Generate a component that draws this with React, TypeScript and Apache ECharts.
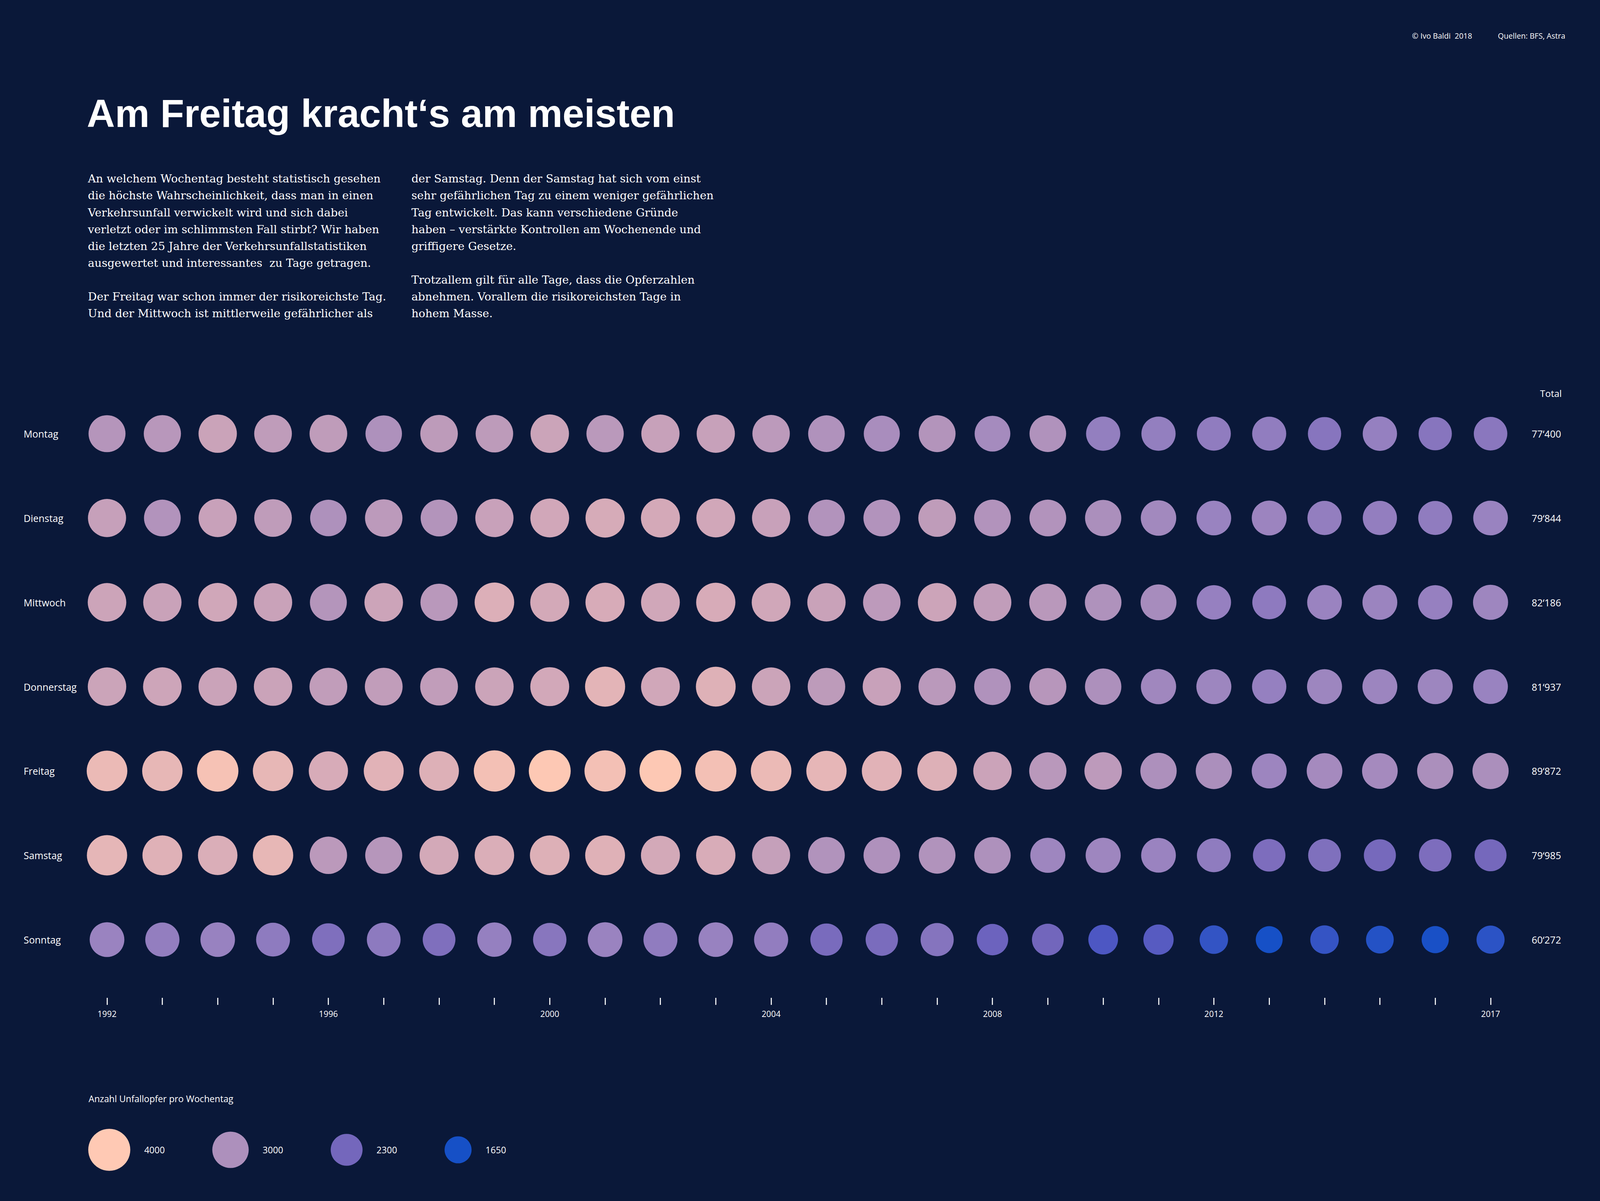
import React, { useEffect, useRef } from "react";
import * as echarts from "echarts";

const YEARS = [1992, 1993, 1994, 1995, 1996, 1997, 1998, 1999, 2000, 2001, 2002, 2003, 2004, 2005, 2006, 2007, 2008, 2009, 2010, 2011, 2012, 2013, 2014, 2015, 2016, 2017];
const YEAR_LABELS = [1992, 1996, 2000, 2004, 2008, 2012, 2017];
const DAYS = ["Montag", "Dienstag", "Mittwoch", "Donnerstag", "Freitag", "Samstag", "Sonntag"];
const TOTALS = ["77‘400", "79‘844", "82‘186", "81‘937", "89‘872", "79‘985", "60‘272"];

const MONTAG = [3096, 3130, 3332, 3213, 3213, 3015, 3189, 3189, 3350, 3154, 3308, 3308, 3171, 3038, 2941, 3072, 2885, 3038, 2649, 2649, 2611, 2627, 2506, 2665, 2506, 2543];
const DIENSTAG = [3292, 3057, 3311, 3209, 3016, 3173, 3074, 3311, 3414, 3475, 3450, 3414, 3311, 3057, 3057, 3209, 3057, 3057, 2976, 2847, 2720, 2752, 2644, 2644, 2611, 2720];
const MITTWOCH = [3365, 3323, 3408, 3323, 3086, 3365, 3144, 3549, 3444, 3487, 3408, 3487, 3408, 3323, 3185, 3365, 3227, 3144, 3028, 2914, 2677, 2585, 2731, 2747, 2677, 2786];
const DONNERSTAG = [3351, 3370, 3333, 3333, 3232, 3232, 3232, 3351, 3430, 3641, 3412, 3579, 3351, 3190, 3309, 3155, 3039, 3114, 2999, 2813, 2775, 2666, 2775, 2758, 2775, 2720];
const FREITAG = [3738, 3693, 3886, 3693, 3487, 3611, 3567, 3847, 3978, 3847, 3978, 3847, 3738, 3674, 3611, 3567, 3346, 3144, 3185, 2993, 2970, 2769, 2880, 2880, 2970, 2970];
const SAMSTAG = [3672, 3590, 3528, 3691, 3165, 3107, 3441, 3528, 3565, 3590, 3441, 3503, 3284, 3049, 3026, 3049, 3009, 2784, 2784, 2729, 2605, 2396, 2427, 2325, 2396, 2310];
const SONNTAG = [2724, 2648, 2702, 2594, 2421, 2578, 2421, 2669, 2525, 2724, 2615, 2702, 2632, 2354, 2370, 2488, 2234, 2284, 1994, 2074, 1829, 1637, 1842, 1740, 1667, 1784];
const ROWS = [MONTAG, DIENSTAG, MITTWOCH, DONNERSTAG, FREITAG, SAMSTAG, SONNTAG];

const LEGEND_VALUES = [4000, 3000, 2300, 1650];
const COLOR_STOPS = [1650, 2000, 2300, 2700, 3000, 3500, 4000];
const COLOR_VALUES = ["#1650C6", "#4E57C3", "#7467BC", "#9882C0", "#AD90BC", "#D8ACB8", "#FFC9B4"];

const TEXT_LEFT = [
  "An welchem Wochentag besteht statistisch gesehen",
  "die höchste Wahrscheinlichkeit, dass man in einen",
  "Verkehrsunfall verwickelt wird und sich dabei",
  "verletzt oder im schlimmsten Fall stirbt? Wir haben",
  "die letzten 25 Jahre der Verkehrsunfallstatistiken",
  "ausgewertet und interessantes  zu Tage getragen.",
  "",
  "Der Freitag war schon immer der risikoreichste Tag.",
  "Und der Mittwoch ist mittlerweile gefährlicher als",
];
const TEXT_RIGHT = [
  "der Samstag. Denn der Samstag hat sich vom einst",
  "sehr gefährlichen Tag zu einem weniger gefährlichen",
  "Tag entwickelt. Das kann verschiedene Gründe",
  "haben – verstärkte Kontrollen am Wochenende und",
  "griffigere Gesetze.",
  "",
  "Trotzallem gilt für alle Tage, dass die Opferzahlen",
  "abnehmen. Vorallem die risikoreichsten Tage in",
  "hohem Masse.",
];

const BG = "#0a1839";
const SANS = '"Open Sans", "Noto Sans", sans-serif';
const SIZE_K = 3.66;
const sizeFor = (v: number) => Math.sqrt(v * SIZE_K);

function hexToRgb(h: string) {
  const n = parseInt(h.slice(1), 16);
  return [(n >> 16) & 255, (n >> 8) & 255, n & 255];
}
function colorFor(v: number) {
  if (v <= COLOR_STOPS[0]) return COLOR_VALUES[0];
  for (let i = 1; i < COLOR_STOPS.length; i++) {
    if (v <= COLOR_STOPS[i]) {
      const t = (v - COLOR_STOPS[i - 1]) / (COLOR_STOPS[i] - COLOR_STOPS[i - 1]);
      const a = hexToRgb(COLOR_VALUES[i - 1]);
      const b = hexToRgb(COLOR_VALUES[i]);
      const c = a.map((x, k) => Math.round(x + (b[k] - x) * t));
      return `rgb(${c[0]},${c[1]},${c[2]})`;
    }
  }
  return COLOR_VALUES[COLOR_VALUES.length - 1];
}

function buildOption(W: number, H: number) {
  const sx = W / 4605;
  const sy = H / 3074;
  const sf = Math.min(sx, sy);
  const X = (v: number) => v * sx;
  const Y = (v: number) => v * sy;
  const F = (v: number) => Math.round(v * sf * 10) / 10;

  const txt = (text: string, x: number, y: number, font: string, align = "left") => ({
    type: "text",
    x: X(x),
    y: Y(y),
    silent: true,
    style: {
      text,
      fill: "#ffffff",
      font,
      align,
      textAlign: align,
      verticalAlign: "middle",
      textVerticalAlign: "middle",
    },
  });

  const data: any[] = [];
  ROWS.forEach((row, d) => row.forEach((v, i) => data.push([YEARS[i], d, v])));

  const graphic: any[] = [];
  graphic.push(txt("Am Freitag kracht‘s am meisten", 250, 290, `bold ${F(112)}px "Liberation Sans", Arial, sans-serif`));
  const baselines = [468, 511, 555, 598, 641, 684, 727, 770, 813];
  const bodyFont = `${F(32)}px "DejaVu Serif", serif`;
  TEXT_LEFT.forEach((l, i) => { if (l) graphic.push(txt(l, 253, baselines[i] - 11, bodyFont)); });
  TEXT_RIGHT.forEach((l, i) => { if (l) graphic.push(txt(l, 1184, baselines[i] - 11, bodyFont)); });
  graphic.push(txt("© Ivo Baldi  2018", 4064, 91, `${F(22)}px ${SANS}`));
  graphic.push(txt("Quellen: BFS, Astra", 4311, 91, `${F(22)}px ${SANS}`));
  graphic.push(txt("Total", 4495, 1006, `${F(27)}px ${SANS}`, "right"));
  graphic.push(txt("Anzahl Unfallopfer pro Wochentag", 255, 2812, `${F(26)}px ${SANS}`));

  let x = 254;
  LEGEND_VALUES.forEach((v) => {
    const r = sizeFor(v) / 2;
    const cx = x + r;
    graphic.push({
      type: "circle",
      silent: true,
      shape: { cx: X(cx), cy: Y(2943), r: r * sf },
      style: { fill: colorFor(v) },
    });
    const lx = cx + r + 40;
    graphic.push(txt(String(v), lx, 2943, `${F(26)}px ${SANS}`));
    x = lx + 196;
  });

  const hidden = {
    axisLine: { show: false },
    axisTick: { show: false },
    splitLine: { show: false },
  };

  return {
    animation: false,
    backgroundColor: BG,
    grid: [
      { left: X(308), right: X(315), top: Y(1110), bottom: Y(669), containLabel: false },
      { left: X(308), right: X(315), top: Y(2554), height: Y(18), containLabel: false },
    ],
    xAxis: [
      {
        gridIndex: 0,
        type: "value",
        min: 1992,
        max: 2017,
        interval: 1,
        show: false,
        ...hidden,
      },
      {
        gridIndex: 1,
        type: "value",
        min: 1992,
        max: 2017,
        interval: 1,
        axisLine: { show: false, onZero: false },
        axisTick: { show: false },
        splitLine: { show: true, lineStyle: { color: "#ffffff", width: Math.max(1, 3 * sf) } },
        axisLabel: {
          formatter: (v: number) => (YEAR_LABELS.indexOf(v) >= 0 ? String(v) : ""),
          color: "#ffffff",
          fontSize: F(24),
          fontFamily: SANS,
          margin: Y(12),
          showMinLabel: true,
          showMaxLabel: true,
        },
      },
    ],
    yAxis: [
      {
        gridIndex: 0,
        type: "value",
        min: 0,
        max: 6,
        interval: 1,
        inverse: true,
        ...hidden,
        axisLabel: {
          formatter: (v: number) => DAYS[v] ?? "",
          align: "left",
          margin: X(240),
          color: "#ffffff",
          fontSize: F(28),
          fontFamily: SANS,
        },
      },
      {
        gridIndex: 0,
        type: "value",
        position: "right",
        min: 0,
        max: 6,
        interval: 1,
        inverse: true,
        ...hidden,
        axisLabel: {
          formatter: (v: number) => TOTALS[v] ?? "",
          align: "right",
          margin: X(203),
          color: "#ffffff",
          fontSize: F(28),
          fontFamily: SANS,
        },
      },
      {
        gridIndex: 1,
        type: "value",
        min: 0,
        max: 1,
        show: false,
        ...hidden,
      },
    ],
    series: [
      {
        type: "scatter",
        xAxisIndex: 0,
        yAxisIndex: 0,
        data,
        symbol: "circle",
        symbolSize: (val: number[]) => sizeFor(val[2]) * sf,
        itemStyle: { color: (p: any) => colorFor(p.value[2]), opacity: 1 },
        silent: true,
      },
    ],
    graphic,
  };
}

export default function App() {
  const ref = useRef<HTMLDivElement>(null);
  useEffect(() => {
    document.body.style.margin = "0";
    const chart = echarts.init(ref.current!, undefined, { renderer: "svg" });
    const build = () => {
      chart.setOption(buildOption(chart.getWidth(), chart.getHeight()) as any, true);
    };
    build();
    const onResize = () => {
      chart.resize();
      build();
    };
    window.addEventListener("resize", onResize);
    return () => {
      window.removeEventListener("resize", onResize);
      chart.dispose();
    };
  }, []);
  return (
    <div
      ref={ref}
      style={{ position: "fixed", left: 0, top: 0, width: "100vw", height: "100vh", background: BG }}
    />
  );
}
